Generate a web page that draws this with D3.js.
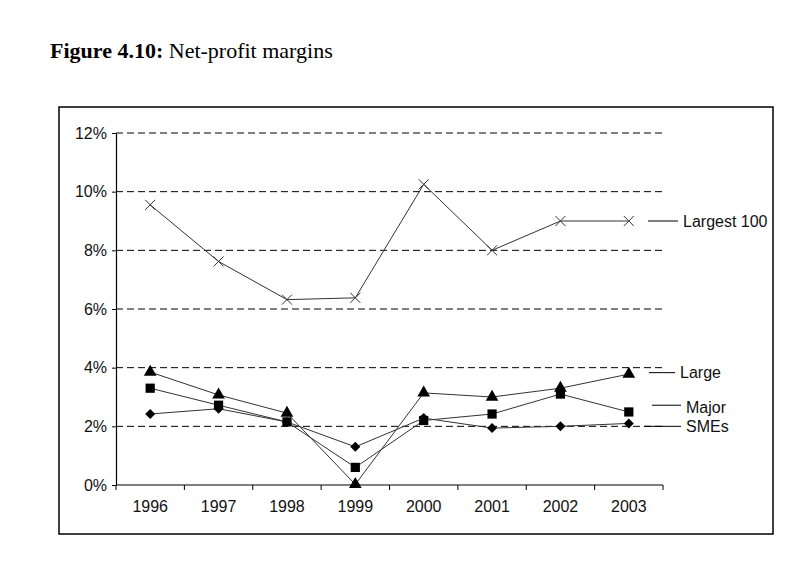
<!DOCTYPE html>
<html>
<head>
<meta charset="utf-8">
<script src="https://cdn.jsdelivr.net/npm/d3@7"></script>
<style>
  body { margin: 0; background: #fff; }
  text { font-family: "Liberation Sans", Arial, sans-serif; }
</style>
</head>
<body>
<div class="chart"></div>
<script>
// data
var years = ["1996", "1997", "1998", "1999", "2000", "2001", "2002", "2003"];
var largest100 = [9.55, 7.62, 6.32, 6.38, 10.25, 8.0, 9.0, 9.0];
var large = [3.85, 3.07, 2.45, 0.02, 3.14, 3.0, 3.3, 3.78];
var major = [3.3, 2.72, 2.15, 0.6, 2.2, 2.42, 3.1, 2.49];
var smes = [2.42, 2.6, 2.15, 1.3, 2.28, 1.94, 2.0, 2.1];
var yTicks = [0, 2, 4, 6, 8, 10, 12];

var series = [
  {name: "Largest 100", values: largest100, symbol: "cross", labelY: 9.0, lineX: [648, 678], lineY: 9.0},
  {name: "Large", values: large, symbol: "triangle", labelY: 3.85, lineX: [649, 675], lineY: 3.83},
  {name: "Major", values: major, symbol: "square", labelY: 2.65, lineX: [652, 681], lineY: 2.72},
  {name: "SMEs", values: smes, symbol: "diamond", labelY: 2.0, lineX: [644, 681], lineY: 2.0}
];

var W = 807, H = 569;
var svg = d3.select(".chart").append("svg")
    .attr("width", W)
    .attr("height", H);

// title
var title = svg.append("text")
    .attr("x", 50)
    .attr("y", 58)
    .style("font-family", "'Liberation Serif', 'Times New Roman', serif")
    .style("font-size", "22px");
title.append("tspan").style("font-weight", "bold").text("Figure 4.10:");
title.append("tspan").text(" Net-profit margins");

// outer frame
svg.append("rect")
    .attr("x", 59).attr("y", 107)
    .attr("width", 714).attr("height", 427)
    .attr("fill", "none").attr("stroke", "#000").attr("stroke-width", 1.5);

var plotL = 116, plotR = 663, plotT = 133, plotB = 485;

var x = d3.scaleBand().domain(years).range([plotL, plotR]);
var y = d3.scaleLinear().domain([0, 12]).range([plotB, plotT]);

// gridlines
svg.append("g").selectAll("line")
    .data(yTicks.filter(function(d) { return d > 0; }))
    .enter().append("line")
    .attr("x1", plotL).attr("x2", plotR)
    .attr("y1", function(d) { return y(d); })
    .attr("y2", function(d) { return y(d); })
    .attr("stroke", "#000")
    .attr("stroke-width", 1)
    .attr("stroke-dasharray", "7,4");

// y axis
var yAxis = svg.append("g")
    .attr("transform", "translate(" + plotL + ",0)")
    .call(d3.axisLeft(y).tickValues(yTicks).tickSize(4).tickSizeOuter(0).tickPadding(5)
        .tickFormat(function(d) { return d + "%"; }));
yAxis.selectAll("text").style("font-size", "16px").attr("fill", "#111");
yAxis.select(".domain").attr("stroke", "#000").attr("stroke-width", 1.2);

// x axis
var xAxis = svg.append("g")
    .attr("transform", "translate(0," + plotB + ")")
    .call(d3.axisBottom(x).tickSize(0).tickPadding(16));
xAxis.select(".domain").remove();
xAxis.selectAll("text").style("font-size", "16px").attr("fill", "#111");
svg.append("line")
    .attr("x1", plotL).attr("x2", plotR)
    .attr("y1", plotB).attr("y2", plotB)
    .attr("stroke", "#000");
svg.append("g").selectAll("line")
    .data(years.concat(["end"]))
    .enter().append("line")
    .attr("x1", function(d, i) { return i < years.length ? x(d) : plotR; })
    .attr("x2", function(d, i) { return i < years.length ? x(d) : plotR; })
    .attr("y1", plotB).attr("y2", plotB + 5)
    .attr("stroke", "#000");

var line = d3.line()
    .x(function(d, i) { return x(years[i]) + x.bandwidth() / 2; })
    .y(function(d) { return y(d); });

var symbols = {
  triangle: d3.symbol().type(d3.symbolTriangle).size(70)(),
  square: d3.symbol().type(d3.symbolSquare).size(85)(),
  diamond: "M0,-5L5,0L0,5L-5,0Z"
};

series.forEach(function(s) {
  svg.append("path")
      .datum(s.values)
      .attr("d", line)
      .attr("fill", "none")
      .attr("stroke", "#333")
      .attr("stroke-width", 1);

  var pts = svg.append("g").selectAll("g")
      .data(s.values)
      .enter().append("g")
      .attr("transform", function(d, i) {
        return "translate(" + (x(years[i]) + x.bandwidth() / 2) + "," + y(d) + ")";
      });

  if (s.symbol === "cross") {
    pts.append("path")
        .attr("d", "M-5,-5L5,5M-5,5L5,-5")
        .attr("stroke", "#333")
        .attr("stroke-width", 1)
        .attr("fill", "none");
  } else {
    pts.append("path")
        .attr("d", symbols[s.symbol])
        .attr("fill", "#000");
  }

  // series label with leader line
  svg.append("line")
      .attr("x1", s.lineX[0]).attr("x2", s.lineX[1])
      .attr("y1", y(s.lineY)).attr("y2", y(s.lineY))
      .attr("stroke", "#000");
  svg.append("text")
      .attr("x", s.lineX[1] + 5)
      .attr("y", y(s.labelY))
      .attr("dy", "0.35em")
      .style("font-size", "16px")
      .attr("fill", "#111")
      .text(s.name);
});
</script>
</body>
</html>
